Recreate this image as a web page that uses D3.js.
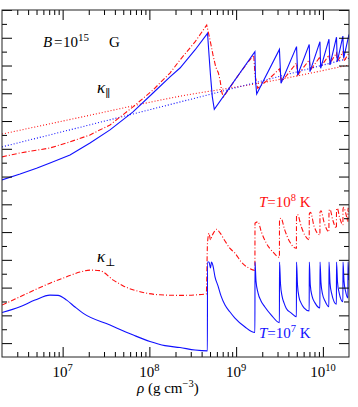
<!DOCTYPE html>
<html>
<head>
<meta charset="utf-8">
<script src="https://cdn.jsdelivr.net/npm/d3@7"></script>
<style>
  body { margin: 0; background: #fff; }
  text { font-family: "Liberation Serif", "DejaVu Serif", serif; }
</style>
</head>
<body>
<div id="chart"></div>
<script>
// density axis (g cm^-3) and unlabelled log-kappa axis
var rhoDomain = [2e6, 2e10];
var kDomain = [8.5, 21];
var rhoMajor = [1e7, 1e8, 1e9, 1e10];
var rhoMajorExp = ["7", "8", "9", "10"];

// kappa parallel, T = 1e7 K (solid blue)
var kParT7 = [[2.00e6,14.88],[3.23e6,15.09],[5.0e6,15.30],[7.15e6,15.49],[1.216e7,15.78],[2.068e7,16.21],[3.516e7,16.68],
  [6.475e7,17.33],[1.101e8,18.01],[1.728e8,18.59],[2.254e8,18.91],[3.357e8,19.56],[4.68e8,20.16],
  [4.87e8,19.38],[5.06e8,18.66],[5.31e8,17.88],[5.60e8,17.42],[1.646e9,19.50],[1.672e9,18.48],[1.726e9,17.97],
  [3.155e9,19.58],[3.29e9,18.36],[4.97e9,19.68],[5.125e9,18.66],[6.96e9,19.76],[7.10e9,18.78],
  [9.25e9,19.86],[9.43e9,18.90],[1.175e10,19.95],[1.208e10,19.02],[1.435e10,20.02],[1.466e10,19.14],
  [1.70e10,20.06],[1.737e10,19.27],[2.0e10,20.12]];

// kappa parallel, T = 1e8 K (dash-dot red)
var kParT8 = [[2.00e6,15.71],[3.23e6,15.85],[7.15e6,16.03],[1.216e7,16.25],[2.068e7,16.50],[3.516e7,16.86],
  [6.475e7,17.51],[1.101e8,18.12],[1.728e8,18.73],[2.254e8,19.20],[3.357e8,19.85],[4.58e8,20.46],
  [5.0e8,19.92],[5.41e8,19.38],[5.815e8,18.95],[6.23e8,18.74],[6.52e8,18.48],[6.87e8,18.01],[7.15e8,17.87],
  [9.70e8,18.48],[1.266e9,18.98],[1.594e9,19.38],[1.65e9,18.66],[1.773e9,18.18],[2.457e9,18.55],
  [3.16e9,18.88],[3.352e9,18.42],[4.966e9,19.09],[5.125e9,18.66],[6.97e9,19.20],[7.196e9,18.84],
  [9.26e9,19.31],[9.51e9,18.96],[1.176e10,19.38],[1.208e10,19.08],[1.435e10,19.45],[1.466e10,19.13],
  [1.705e10,19.49],[1.751e10,19.16],[2.0e10,19.45]];

// non-quantizing kappa parallel (dotted)
var kParB0T8 = [[2e6,16.53],[2.068e7,17.21],[1.974e8,17.86],[2.425e9,18.43],[2e10,19.02]];
var kParB0T7 = [[2e6,16.07],[1.974e8,17.64],[2e10,19.26]];

// kappa perpendicular, T = 1e7 K (solid blue)
var kPerpT7 = [[2.00e6,10.10],[3.225e6,10.31],[4.80e6,10.55],[7.15e6,10.73],[8.84e6,10.72],[1.114e7,10.55],
  [1.389e7,10.30],[1.731e7,10.07],[3.516e7,9.65],[6.525e7,9.29],[1.016e8,9.06],[1.513e8,8.91],[2.254e8,8.84],
  [3.357e8,8.75],[4.664e8,8.72],
  [4.677e8,11.92],[4.866e8,11.92],[5.064e8,11.71],[5.20e8,11.92],[5.411e8,11.78],[5.706e8,11.39],[6.18e8,11.06],
  [6.693e8,10.70],[7.442e8,10.37],[8.50e8,10.12],[9.627e8,9.91],[1.256e9,9.59],[1.646e9,9.38],
  [1.650e9,11.92],[1.694e9,11.24],[1.787e9,10.81],[1.935e9,10.52],[2.135e9,10.31],[2.544e9,10.01],[3.155e9,9.74],
  [3.162e9,11.92],[3.247e9,11.13],[3.379e9,10.70],[3.563e9,10.45],[3.788e9,10.25],[4.292e9,10.09],[4.953e9,9.95],
  [4.966e9,11.92],[5.099e9,11.09],[5.306e9,10.66],[5.595e9,10.45],[6.06e9,10.27],[6.955e9,10.16],
  [6.973e9,11.92],[7.161e9,11.09],[7.491e9,10.70],[8.115e9,10.45],[9.24e9,10.27],
  [9.266e9,11.92],[9.512e9,11.17],[9.90e9,10.77],[1.058e10,10.52],[1.173e10,10.31],
  [1.176e10,11.92],[1.208e10,11.17],[1.257e10,10.81],[1.432e10,10.40],
  [1.436e10,11.92],[1.474e10,11.20],[1.534e10,10.84],[1.701e10,10.49],
  [1.706e10,11.92],[1.752e10,11.24],[1.823e10,10.88],[1.943e10,10.63],
  [1.948e10,11.92],[2.0e10,11.27]];

// kappa perpendicular, T = 1e8 K (dash-dot red)
var kPerpT8 = [[2.00e6,10.37],[3.225e6,10.67],[7.15e6,11.16],[1.114e7,11.39],[1.585e7,11.56],[2.068e7,11.63],
  [2.696e7,11.61],[3.837e7,11.27],[5.004e7,11.06],[7.793e7,10.85],[1.325e8,10.74],[2.254e8,10.72],[4.53e8,10.77],
  [4.677e8,12.61],[4.866e8,12.96],[5.064e8,12.72],[5.268e8,12.86],[5.557e8,13.00],[5.968e8,13.10],[6.52e8,12.97],
  [7.442e8,12.68],[8.50e8,12.41],[9.70e8,12.24],[1.147e9,11.92],[1.370e9,11.72],[1.646e9,11.62],
  [1.650e9,13.32],[1.787e9,13.37],[1.951e9,13.01],[2.228e9,12.60],[2.661e9,12.28],[3.155e9,12.09],
  [3.162e9,13.44],[3.290e9,13.50],[3.629e9,13.08],[4.145e9,12.65],[4.953e9,12.42],
  [4.966e9,13.58],[5.099e9,13.63],[5.640e9,13.19],[6.221e9,12.88],[6.955e9,12.72],
  [6.973e9,13.65],[7.198e9,13.71],[7.90e9,13.22],[9.24e9,12.90],
  [9.266e9,13.72],[9.512e9,13.77],[1.030e10,13.36],[1.173e10,13.01],
  [1.176e10,13.76],[1.208e10,13.82],[1.291e10,13.47],[1.432e10,13.14],
  [1.436e10,13.80],[1.466e10,13.86],[1.555e10,13.54],[1.701e10,13.26],
  [1.706e10,13.83],[1.737e10,13.89],[1.846e10,13.65],[1.943e10,13.37],
  [1.948e10,13.87],[2.0e10,13.72]];

var blue = "#1010ff", red = "#ff1010";
var curves = [
  { data: kParB0T8, color: red, dash: "1,2", smooth: true },
  { data: kParB0T7, color: blue, dash: "1,2", smooth: true },
  { data: kParT8, color: red, dash: "5,2,1,2", smooth: false },
  { data: kParT7, color: blue, dash: null, smooth: false },
  { data: kPerpT8, color: red, dash: "5,2,1,2", smooth: true },
  { data: kPerpT7, color: blue, dash: null, smooth: true }
];

var W = 358, H = 407;
var margin = { left: 2, right: 9, top: 10, bottom: 50 };
var width = W - margin.left - margin.right;   // 347
var height = H - margin.top - margin.bottom;  // 347

var svg = d3.select("#chart").append("svg").attr("width", W).attr("height", H);
var g = svg.append("g").attr("transform", "translate(" + margin.left + "," + margin.top + ")");

var x = d3.scaleLog().domain(rhoDomain).range([0, width]);
var y = d3.scaleLinear().domain(kDomain).range([height, 0]);

g.append("clipPath").attr("id", "clip").append("rect").attr("width", width).attr("height", height);

var lineSmooth = d3.line().curve(d3.curveMonotoneX)
  .x(function (d) { return x(d[0]); }).y(function (d) { return y(d[1]); });
var lineSharp = d3.line()
  .x(function (d) { return x(d[0]); }).y(function (d) { return y(d[1]); });
g.append("g").attr("clip-path", "url(#clip)").selectAll("path").data(curves).enter().append("path")
  .attr("d", function (d) { return (d.smooth ? lineSmooth : lineSharp)(d.data); })
  .attr("fill", "none")
  .attr("stroke", function (d) { return d.color; })
  .attr("stroke-width", 1.1)
  .attr("stroke-dasharray", function (d) { return d.dash; });

// ticks
var rhoMinor = [];
for (var e = 6; e <= 10; e++) for (var m = 2; m <= 9; m++) {
  var v = m * Math.pow(10, e);
  if (v > rhoDomain[0] && v < rhoDomain[1]) rhoMinor.push(v);
}
var kMajor = d3.range(9, 21.01, 1), kMinor = d3.range(8.5, 21, 1).filter(function (v) { return v > kDomain[0]; });

function ticks(axis, vals, len, tr) {
  var a = g.append("g").attr("transform", tr || null)
    .call(axis.tickValues(vals).tickSize(-len).tickFormat(""));
  a.select(".domain").remove();
  a.selectAll("line").attr("stroke", "#000");
}
ticks(d3.axisBottom(x), rhoMajor, 10, "translate(0," + height + ")");
ticks(d3.axisBottom(x), rhoMinor, 5, "translate(0," + height + ")");
ticks(d3.axisTop(x), rhoMajor, 10);
ticks(d3.axisTop(x), rhoMinor, 5);
ticks(d3.axisLeft(y), kMajor, 10);
ticks(d3.axisLeft(y), kMinor, 5);
ticks(d3.axisRight(y), kMajor, 10, "translate(" + width + ",0)");
ticks(d3.axisRight(y), kMinor, 5, "translate(" + width + ",0)");

g.append("rect").attr("width", width).attr("height", height)
  .attr("fill", "none").attr("stroke", "#222").attr("stroke-width", 1);

// tick labels
var tl = g.selectAll(".tl").data(rhoMajor).enter().append("text")
  .attr("class", "tl").attr("x", function (d) { return x(d); }).attr("y", height + 20)
  .attr("text-anchor", "middle").attr("font-size", 15);
tl.append("tspan").text("10");
tl.append("tspan").attr("dy", -6).attr("font-size", 10.5).text(function (d, i) { return rhoMajorExp[i]; });

// axis title
var xt = g.append("text").attr("x", 135).attr("y", height + 36).attr("font-size", 15);
xt.append("tspan").attr("font-style", "italic").text("ρ");
xt.append("tspan").text("  (g cm");
xt.append("tspan").attr("dy", -6).attr("font-size", 10.5).text("−3");
xt.append("tspan").attr("dy", 6).text(")");

// annotations
var bt = g.append("text").attr("y", 37).attr("font-size", 15);
bt.append("tspan").attr("x", 41).attr("font-style", "italic").text("B");
bt.append("tspan").attr("x", 52).text("=");
bt.append("tspan").attr("x", 61).text("10");
bt.append("tspan").attr("x", 76).attr("dy", -6).attr("font-size", 11).text("15");
bt.append("tspan").attr("x", 107).attr("dy", 6).text("G");

function kappaLabel(px, py, sub) {
  var t = g.append("text").attr("x", px).attr("y", py).attr("font-size", 17);
  t.append("tspan").attr("font-style", "italic").text("κ");
  t.append("tspan").attr("dy", 4).attr("font-size", 11).text(sub);
}
kappaLabel(95, 83, "∥");
kappaLabel(95, 252, "⊥");

function tempLabel(px, py, exp, color) {
  var t = g.append("text").attr("x", px).attr("y", py).attr("font-size", 15).attr("fill", color);
  t.append("tspan").attr("font-style", "italic").text("T");
  t.append("tspan").text("=10");
  t.append("tspan").attr("dy", -6).attr("font-size", 10.5).text(exp);
  t.append("tspan").attr("dy", 6).text("  K");
}
tempLabel(257, 197, "8", red);
tempLabel(257, 328, "7", blue);
</script>
</body>
</html>
